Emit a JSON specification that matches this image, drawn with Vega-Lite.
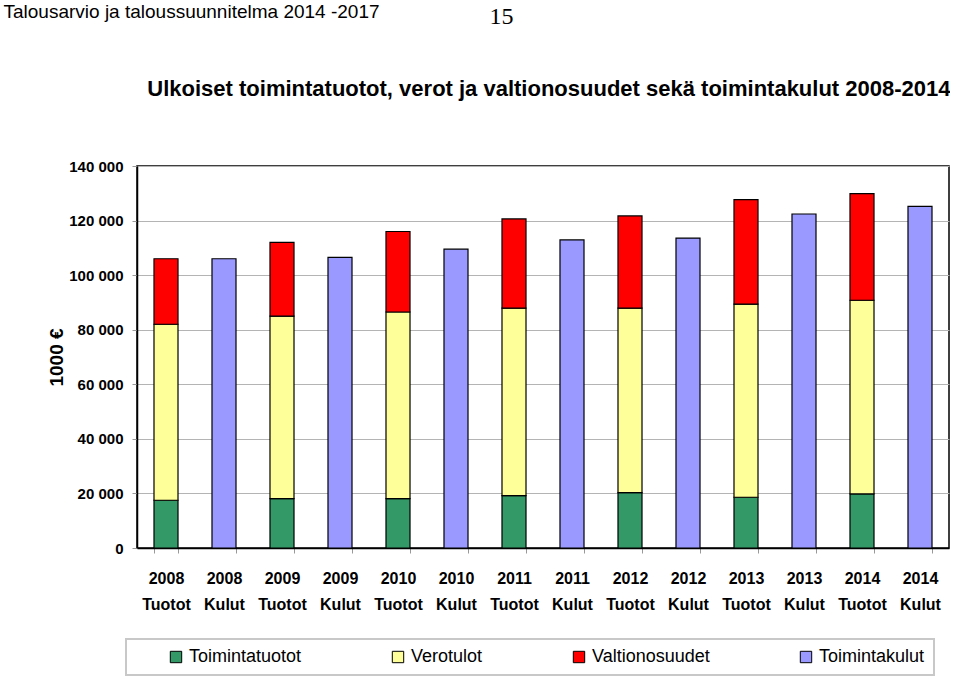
{
  "$schema": "https://vega.github.io/schema/vega-lite/v6.json",
  "width": 812,
  "height": 382,
  "padding": {"left": 3, "top": 2, "right": 0, "bottom": 0},
  "background": "white",
  "config": {
    "locale": {"number": {"decimal": ",", "thousands": " ", "grouping": [3], "currency": ["", " €"]}},
    "view": {"stroke": "#000000", "strokeWidth": 1.5},
    "font": "Liberation Sans, Arial, sans-serif",
    "legend": {"strokeWidth": 2}
  },
  "data": {
    "values": [
      {"kat": "2008 Tuotot", "tyyppi": "Tuotot", "sarja": "Toimintatuotot", "jarj": 1, "arvo": 17500},
      {"kat": "2008 Tuotot", "tyyppi": "Tuotot", "sarja": "Verotulot", "jarj": 2, "arvo": 64500},
      {"kat": "2008 Tuotot", "tyyppi": "Tuotot", "sarja": "Valtionosuudet", "jarj": 3, "arvo": 24000},
      {"kat": "2008 Kulut", "tyyppi": "Kulut", "sarja": "Toimintakulut", "jarj": 4, "arvo": 106000},
      {"kat": "2009 Tuotot", "tyyppi": "Tuotot", "sarja": "Toimintatuotot", "jarj": 1, "arvo": 18100},
      {"kat": "2009 Tuotot", "tyyppi": "Tuotot", "sarja": "Verotulot", "jarj": 2, "arvo": 66900},
      {"kat": "2009 Tuotot", "tyyppi": "Tuotot", "sarja": "Valtionosuudet", "jarj": 3, "arvo": 27000},
      {"kat": "2009 Kulut", "tyyppi": "Kulut", "sarja": "Toimintakulut", "jarj": 4, "arvo": 106500},
      {"kat": "2010 Tuotot", "tyyppi": "Tuotot", "sarja": "Toimintatuotot", "jarj": 1, "arvo": 18100},
      {"kat": "2010 Tuotot", "tyyppi": "Tuotot", "sarja": "Verotulot", "jarj": 2, "arvo": 68400},
      {"kat": "2010 Tuotot", "tyyppi": "Tuotot", "sarja": "Valtionosuudet", "jarj": 3, "arvo": 29500},
      {"kat": "2010 Kulut", "tyyppi": "Kulut", "sarja": "Toimintakulut", "jarj": 4, "arvo": 109500},
      {"kat": "2011 Tuotot", "tyyppi": "Tuotot", "sarja": "Toimintatuotot", "jarj": 1, "arvo": 19200},
      {"kat": "2011 Tuotot", "tyyppi": "Tuotot", "sarja": "Verotulot", "jarj": 2, "arvo": 68700},
      {"kat": "2011 Tuotot", "tyyppi": "Tuotot", "sarja": "Valtionosuudet", "jarj": 3, "arvo": 32700},
      {"kat": "2011 Kulut", "tyyppi": "Kulut", "sarja": "Toimintakulut", "jarj": 4, "arvo": 112900},
      {"kat": "2012 Tuotot", "tyyppi": "Tuotot", "sarja": "Toimintatuotot", "jarj": 1, "arvo": 20300},
      {"kat": "2012 Tuotot", "tyyppi": "Tuotot", "sarja": "Verotulot", "jarj": 2, "arvo": 67600},
      {"kat": "2012 Tuotot", "tyyppi": "Tuotot", "sarja": "Valtionosuudet", "jarj": 3, "arvo": 33800},
      {"kat": "2012 Kulut", "tyyppi": "Kulut", "sarja": "Toimintakulut", "jarj": 4, "arvo": 113600},
      {"kat": "2013 Tuotot", "tyyppi": "Tuotot", "sarja": "Toimintatuotot", "jarj": 1, "arvo": 18600},
      {"kat": "2013 Tuotot", "tyyppi": "Tuotot", "sarja": "Verotulot", "jarj": 2, "arvo": 70800},
      {"kat": "2013 Tuotot", "tyyppi": "Tuotot", "sarja": "Valtionosuudet", "jarj": 3, "arvo": 38300},
      {"kat": "2013 Kulut", "tyyppi": "Kulut", "sarja": "Toimintakulut", "jarj": 4, "arvo": 122400},
      {"kat": "2014 Tuotot", "tyyppi": "Tuotot", "sarja": "Toimintatuotot", "jarj": 1, "arvo": 19800},
      {"kat": "2014 Tuotot", "tyyppi": "Tuotot", "sarja": "Verotulot", "jarj": 2, "arvo": 71000},
      {"kat": "2014 Tuotot", "tyyppi": "Tuotot", "sarja": "Valtionosuudet", "jarj": 3, "arvo": 39100},
      {"kat": "2014 Kulut", "tyyppi": "Kulut", "sarja": "Toimintakulut", "jarj": 4, "arvo": 125200}
    ]
  },
  "resolve": {"axis": {"x": "independent", "y": "independent"}},
  "layer": [
    {
      "transform": [{"filter": "datum.tyyppi == 'Tuotot'"}],
      "mark": {"type": "bar", "stroke": "#000000", "strokeWidth": 1.2},
      "encoding": {
        "x": {
          "field": "kat", "type": "nominal",
          "scale": {
            "domain": ["2008 Tuotot", "2008 Kulut", "2009 Tuotot", "2009 Kulut", "2010 Tuotot", "2010 Kulut", "2011 Tuotot", "2011 Kulut", "2012 Tuotot", "2012 Kulut", "2013 Tuotot", "2013 Kulut", "2014 Tuotot", "2014 Kulut"],
            "paddingInner": 0.586, "paddingOuter": 0.293
          },
          "axis": {
            "orient": "bottom",
            "title": "Talousarvio ja taloussuunnitelma  2014 -2017",
            "titleX": -134, "titleY": -531,
            "titleAlign": "left", "titleBaseline": "alphabetic",
            "titleFont": "Liberation Sans, Arial, sans-serif",
            "titleFontSize": 19, "titleFontWeight": "normal", "titleColor": "#000000",
            "labelExpr": "split(datum.label, ' ')",
            "labelAngle": 0,
            "labelFont": "Liberation Sans, Arial, sans-serif",
            "labelFontSize": 16, "labelFontWeight": "bold", "labelColor": "#000000",
            "labelLineHeight": 26, "labelPadding": 17,
            "tickBand": "extent", "tickSize": 5, "tickColor": "#999999",
            "domainColor": "#000000", "domainWidth": 1.5,
            "grid": false
          }
        },
        "y": {
          "field": "arvo", "type": "quantitative", "stack": "zero",
          "scale": {"domain": [0, 140000], "nice": false},
          "axis": {
            "title": "1000 €",
            "titleFont": "Liberation Sans, Arial, sans-serif",
            "titleFontSize": 19, "titleFontWeight": "bold", "titleColor": "#000000",
            "titlePadding": 2,
            "values": [0, 20000, 40000, 60000, 80000, 100000, 120000, 140000],
            "format": ",d",
            "labelFont": "Liberation Sans, Arial, sans-serif",
            "labelFontSize": 15, "labelFontWeight": "bold", "labelColor": "#000000",
            "labelPadding": 9,
            "tickSize": 5, "tickColor": "#999999",
            "domainColor": "#000000", "domainWidth": 1.5,
            "grid": true, "gridColor": "#b4b4b4", "gridWidth": 1
          }
        },
        "color": {
          "field": "sarja", "type": "nominal",
          "scale": {
            "domain": ["Toimintatuotot", "Verotulot", "Valtionosuudet", "Toimintakulut"],
            "range": ["#339966", "#FFFF99", "#FF0000", "#9999FF"]
          },
          "legend": {
            "title": null,
            "orient": "none", "legendX": -11, "legendY": 473,
            "direction": "horizontal", "columns": 4,
            "symbolType": "square", "symbolSize": 130,
            "symbolStrokeColor": "#000000", "symbolStrokeWidth": 1, "symbolOpacity": 1,
            "symbolOffset": 32,
            "labelFont": "Liberation Sans, Arial, sans-serif",
            "labelFontSize": 18, "labelFontWeight": "normal", "labelColor": "#000000",
            "labelOffset": 4, "columnPadding": 55,
            "padding": 9,
            "strokeColor": "#c8c8c8", "fillColor": "#ffffff"
          }
        },
        "order": {"field": "jarj", "type": "quantitative"}
      }
    },
    {
      "transform": [{"filter": "datum.tyyppi == 'Kulut'"}],
      "mark": {"type": "bar", "stroke": "#000000", "strokeWidth": 1.2},
      "encoding": {
        "x": {
          "field": "kat", "type": "nominal",
          "axis": {
            "orient": "top",
            "title": "Ulkoiset toimintatuotot, verot ja valtionosuudet  sekä toimintakulut 2008-2014",
            "titleX": 813, "titleY": -71,
            "titleAlign": "right", "titleBaseline": "alphabetic",
            "titleFont": "Liberation Sans, Arial, sans-serif",
            "titleFontSize": 22, "titleFontWeight": "bold", "titleColor": "#000000",
            "labels": false, "ticks": false, "domain": false, "grid": false
          }
        },
        "y": {
          "field": "arvo", "type": "quantitative",
          "axis": {
            "title": "15",
            "titleAngle": 0, "titleX": -448, "titleY": -143,
            "titleAlign": "center", "titleBaseline": "alphabetic",
            "titleFont": "Liberation Serif, DejaVu Serif, serif",
            "titleFontSize": 24, "titleFontWeight": "normal", "titleColor": "#000000",
            "labels": false, "ticks": false, "domain": false, "grid": false
          }
        },
        "color": {"field": "sarja", "type": "nominal"}
      }
    }
  ]
}
